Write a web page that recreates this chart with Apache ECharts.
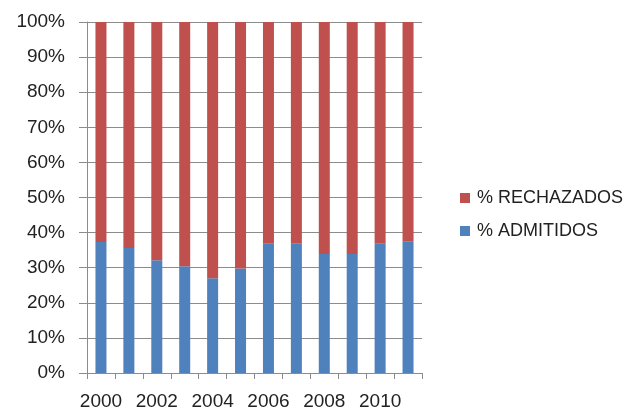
<!DOCTYPE html>
<html>
<head>
<meta charset="utf-8">
<script src="https://cdn.jsdelivr.net/npm/echarts@6/dist/echarts.min.js"></script>
<style>
  html, body { margin: 0; padding: 0; background: #fff; }
  #chart { width: 632px; height: 419px; }
</style>
</head>
<body>
<div id="chart"></div>
<script>
  // years on the x axis
  var years = ["2000", "2001", "2002", "2003", "2004", "2005",
               "2006", "2007", "2008", "2009", "2010", "2011"];
  // share of admitted (%)
  var admitidos = [37.3, 35.6, 32.1, 30.4, 27.0, 29.8, 36.8, 36.8, 33.9, 33.9, 36.8, 37.4];
  // share of rejected (%)
  var rechazados = admitidos.map(function (v) { return +(100 - v).toFixed(1); });

  var blue = "#4f81bd";
  var red = "#c0504d";
  var gridColor = "#8c8c8c";
  var font = "Liberation Sans";

  var chart = echarts.init(document.getElementById("chart"), null, {renderer: "canvas"});
  chart.setOption({
    animation: false,
    textStyle: {fontFamily: font},
    grid: {
      left: 87,
      right: 210,
      top: 22,
      bottom: 46,
      containLabel: false
    },
    legend: {
      orient: "vertical",
      left: 455,
      top: 184,
      itemWidth: 10,
      itemHeight: 10,
      itemGap: 15,
      icon: "rect",
      textStyle: {fontSize: 18, color: "#222", fontFamily: font, padding: [0, 0, 0, 2]},
      data: ["% RECHAZADOS", "% ADMITIDOS"]
    },
    xAxis: {
      type: "category",
      data: years,
      boundaryGap: true,
      axisLine: {lineStyle: {color: gridColor, width: 1}},
      axisTick: {show: true, interval: 0, length: 6, lineStyle: {color: gridColor}},
      axisLabel: {interval: 1, fontSize: 19, color: "#222", margin: 19, fontFamily: font}
    },
    yAxis: {
      type: "value",
      min: 0,
      max: 100,
      interval: 10,
      axisLine: {show: true, lineStyle: {color: gridColor, width: 1}},
      axisTick: {show: true, length: 8, lineStyle: {color: gridColor}},
      splitLine: {show: true, lineStyle: {color: gridColor, width: 1}},
      axisLabel: {
        fontSize: 19,
        color: "#222",
        margin: 22,
        fontFamily: font,
        formatter: function (v) { return v + "%"; }
      }
    },
    series: [
      {
        name: "% ADMITIDOS",
        type: "bar",
        stack: "total",
        barWidth: 11,
        itemStyle: {color: blue},
        data: admitidos
      },
      {
        name: "% RECHAZADOS",
        type: "bar",
        stack: "total",
        barWidth: 11,
        itemStyle: {color: red},
        data: rechazados
      }
    ]
  });
</script>
</body>
</html>
